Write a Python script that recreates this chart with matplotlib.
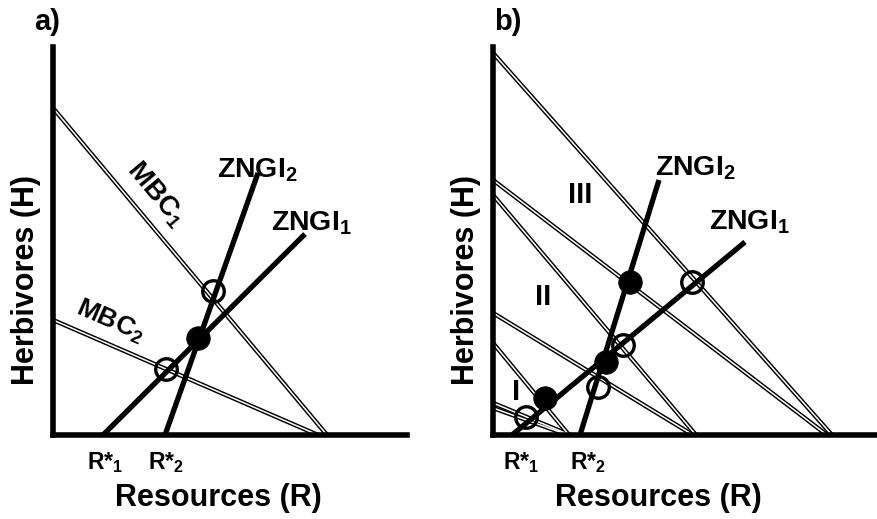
import matplotlib.pyplot as plt

plt.rcParams['font.family'] = ['Liberation Sans', 'DejaVu Sans']
plt.rcParams['font.weight'] = 'bold'
plt.rcParams['mathtext.fontset'] = 'custom'
plt.rcParams['mathtext.rm'] = 'Liberation Sans:bold'
plt.rcParams['mathtext.default'] = 'rm'

# panel a: MBC lines (H intercept, R intercept), ZNGI lines (R*, end point), equilibria
a_mbc_h = [327, 115]
a_mbc_r = [274, 265]
a_rstar = [50, 112]
a_zngi_end_r = [252, 205]
a_zngi_end_h = [201, 262]
a_open_r = [160, 113]
a_open_h = [144, 66]
a_fill_r = [145]
a_fill_h = [97]

# panel b: three supply levels (I, II, III)
b_mbc_h = [92, 32, 27, 240, 122, 382, 255]
b_mbc_r = [76, 77, 75, 203, 200, 339, 334]
b_rstar = [19, 87]
b_zngi_end_r = [252, 166]
b_zngi_end_h = [193, 255]
b_open_r = [199, 130, 105, 33]
b_open_h = [153, 90, 48, 18]
b_fill_r = [137, 113, 52]
b_fill_h = [153, 73, 37]

fig = plt.figure(figsize=(8.77, 5.19), dpi=100)
axa = fig.add_axes([53/877, 84/519, 354/877, 388/519])
axb = fig.add_axes([493/877, 84/519, 384/877, 388/519])


def drawPanel(ax, w, mbc_h, mbc_r, rstar, end_r, end_h, open_r, open_h, fill_r, fill_h):
    ax.set_xlim(0, w)
    ax.set_ylim(0, 388)
    ax.set_xticks([])
    ax.set_yticks([])
    for s in ['top', 'right']:
        ax.spines[s].set_visible(False)
    for s in ['left', 'bottom']:
        ax.spines[s].set_linewidth(4)
        ax.spines[s].set_capstyle('projecting')
    # double lines for MBCs
    for h, r in zip(mbc_h, mbc_r):
        ax.plot([0, r], [h, 0], color='black', lw=3.2, solid_capstyle='butt', zorder=2)
        ax.plot([0, r], [h, 0], color='white', lw=1.1, solid_capstyle='butt', zorder=2.1)
    for r0, r1, h1 in zip(rstar, end_r, end_h):
        ax.plot([r0, r1], [0, h1], color='black', lw=3.8, solid_capstyle='butt', zorder=3)
    ax.plot(open_r, open_h, 'o', ms=15.5, mfc='none', mec='black', mew=2.4, clip_on=False, zorder=4)
    ax.plot(fill_r, fill_h, 'o', ms=17, mfc='black', mec='black', mew=0.5, clip_on=False, zorder=4)
    ax.text(165, -63, 'Resources (R)', fontsize=22, ha='center', va='center')
    ax.text(-27, 155, 'Herbivores (H)', fontsize=22, ha='center', va='center', rotation=90)


drawPanel(axa, 354, a_mbc_h, a_mbc_r, a_rstar, a_zngi_end_r, a_zngi_end_h,
          a_open_r, a_open_h, a_fill_r, a_fill_h)
drawPanel(axb, 384, b_mbc_h, b_mbc_r, b_rstar, b_zngi_end_r, b_zngi_end_h,
          b_open_r, b_open_h, b_fill_r, b_fill_h)

# panel a labels
axa.text(-6, 413, 'a)', fontsize=21, ha='center', va='center')
axa.text(103, 241, r'MBC$_\mathrm{1}$', fontsize=20, ha='center', va='center', rotation=-50)
axa.text(57, 114, r'MBC$_\mathrm{2}$', fontsize=19, ha='center', va='center', rotation=-23.5)
axa.text(204, 265, r'ZNGI$_\mathrm{2}$', fontsize=20.5, ha='center', va='center')
axa.text(258, 212, r'ZNGI$_\mathrm{1}$', fontsize=20.5, ha='center', va='center')
axa.text(52, -28, r'R*$_\mathrm{1}$', fontsize=16.5, ha='center', va='center')
axa.text(113, -28, r'R*$_\mathrm{2}$', fontsize=16.5, ha='center', va='center')

# panel b labels
axb.text(15, 413, 'b)', fontsize=21, ha='center', va='center')
axb.text(202, 267, r'ZNGI$_\mathrm{2}$', fontsize=20.5, ha='center', va='center')
axb.text(256, 213, r'ZNGI$_\mathrm{1}$', fontsize=20.5, ha='center', va='center')
axb.text(87, 240, 'III', fontsize=21, ha='center', va='center')
axb.text(50, 138, 'II', fontsize=21, ha='center', va='center')
axb.text(23, 43, 'I', fontsize=21, ha='center', va='center')
axb.text(28, -28, r'R*$_\mathrm{1}$', fontsize=16.5, ha='center', va='center')
axb.text(95, -28, r'R*$_\mathrm{2}$', fontsize=16.5, ha='center', va='center')

fig.savefig('out.png', dpi=100)
